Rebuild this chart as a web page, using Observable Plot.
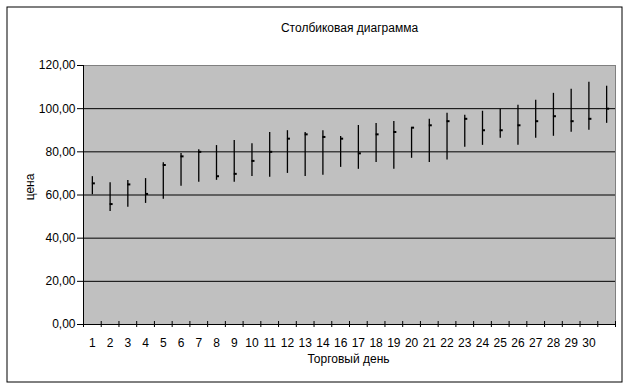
<!DOCTYPE html>
<html>
<head>
<meta charset="utf-8">
<script src="https://cdn.jsdelivr.net/npm/d3@7"></script>
<script src="https://cdn.jsdelivr.net/npm/@observablehq/plot@0.6"></script>
<style>
  html, body { margin: 0; padding: 0; background: #fff; }
  svg { display: block; }
</style>
</head>
<body>
<div id="chart"></div>
<script>
const title = "Столбиковая диаграмма";
const xLabel = "Торговый день";
const yLabel = "цена";
const dayLabels = ["1","2","3","4","5","6","7","8","9","10","11","12","13","14","16","17","18","19","20","21","22","23","24","25","26","27","28","29","30",""];
const high  = [68.5, 65.7, 66.7, 67.6, 75.0, 79.2, 81.0, 82.9, 85.2, 83.8, 88.9, 89.8, 88.9, 89.8, 87.1, 92.2, 93.1, 94.0, 91.2, 95.1, 97.9, 96.9, 98.8, 99.7, 101.6, 103.9, 107.1, 109.0, 112.2, 110.4];
const low   = [60.1, 52.4, 54.3, 56.1, 58.0, 64.0, 65.9, 66.8, 65.9, 68.6, 68.2, 70.0, 68.6, 69.1, 72.8, 71.9, 75.1, 71.9, 77.0, 75.1, 76.2, 82.1, 83.0, 86.3, 83.0, 86.3, 87.2, 89.1, 90.0, 93.2];
const close = [65.4, 55.8, 64.9, 60.5, 73.9, 77.9, 80.0, 68.7, 69.8, 75.8, 80.0, 86.1, 88.1, 86.9, 86.1, 79.3, 88.1, 89.2, 91.2, 92.3, 94.2, 95.3, 90.0, 90.0, 92.3, 94.2, 96.5, 94.2, 95.3, 100.0];
const yTicks = [0, 20, 40, 60, 80, 100, 120];

const data = dayLabels.map((label, k) => ({i: k + 1, label, high: high[k], low: low[k], close: close[k]}));
const positions = data.map(d => d.i);
const boundaries = [0.5, ...positions.map(p => p + 0.5)];
const fmt = v => v.toFixed(2).replace(".", ",");
const font = "'Liberation Sans', Arial, sans-serif";

const chart = Plot.plot({
  width: 629,
  height: 388,
  marginLeft: 83,
  marginRight: 14,
  marginTop: 65,
  marginBottom: 64,
  style: {fontFamily: font, fontSize: "12px", color: "#000", background: "#fff", overflow: "visible"},
  x: {type: "linear", domain: [0.5, 30.5]},
  y: {domain: [0, 120]},
  marks: [
    Plot.frame({fill: "#c0c0c0", stroke: "#808080"}),
    Plot.frame({stroke: "#000", fill: "none", insetLeft: -76.5, insetTop: -58.5, insetRight: -6.5, insetBottom: -57.5}),
    Plot.ruleY(yTicks.filter(v => v > 0 && v < 120), {stroke: "#000"}),
    Plot.ruleY([0], {stroke: "#000"}),
    Plot.ruleX([0.5], {stroke: "#000"}),
    Plot.ruleX(boundaries, {x: d => d, y1: 0, y2: 0, insetTop: 3, insetBottom: 3, stroke: "#000"}),
    Plot.axisY({ticks: yTicks, tickSize: 6, tickPadding: 2, tickFormat: fmt, label: null, fontSize: 12}),
    Plot.axisX({ticks: positions, tickSize: 0, tickPadding: 14, tickFormat: p => dayLabels[p - 1], label: null, fontSize: 12}),
    Plot.ruleX(data, {x: "i", y1: "low", y2: "high", stroke: "#000", strokeWidth: 1.3}),
    Plot.ruleY(data, {x1: "i", x2: d => d.i + 0.17, y: "close", stroke: "#000", strokeWidth: 2}),
    Plot.text([title], {frameAnchor: "top", lineAnchor: "middle", dy: -37, fontSize: 12}),
    Plot.text([xLabel], {frameAnchor: "bottom", lineAnchor: "middle", dx: -1, dy: 35, fontSize: 12}),
    Plot.text([yLabel], {frameAnchor: "left", textAnchor: "middle", lineAnchor: "middle", dx: -53, dy: -8, rotate: -90, fontSize: 12})
  ]
});
document.getElementById("chart").appendChild(chart);
</script>
</body>
</html>
